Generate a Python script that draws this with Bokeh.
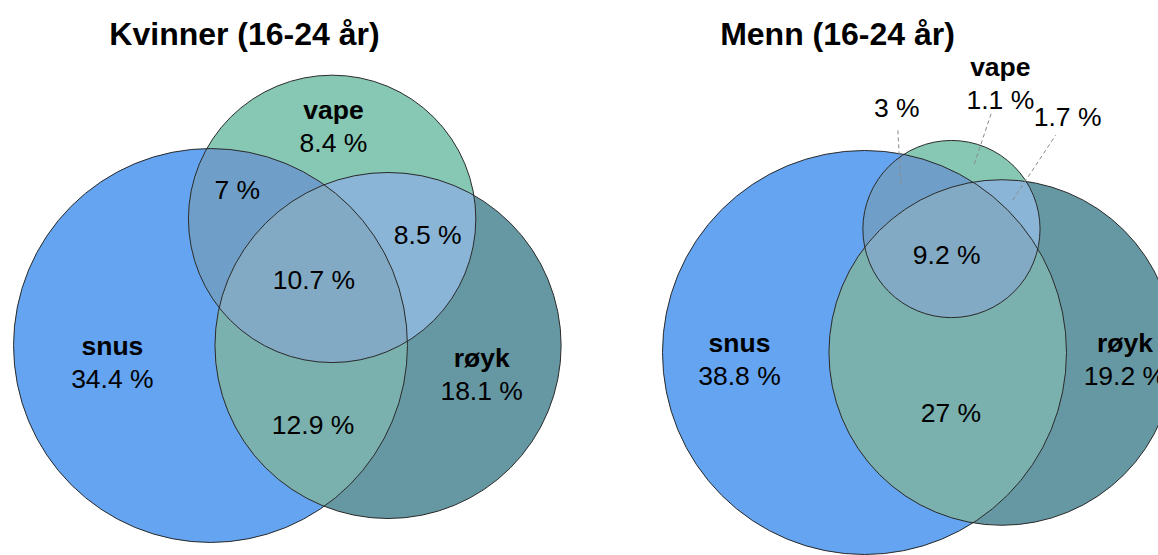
import numpy as np
from bokeh.plotting import figure
from bokeh.layouts import row
from bokeh.embed import file_html
from bokeh.resources import INLINE
from bokeh.core.properties import value

# ---------------- data ----------------
set_names = ["snus", "vape", "røyk"]
# region membership keys (snus, vape, røyk)
region_keys = ["100", "010", "001", "110", "011", "101", "111"]
kvinner_values = [34.4, 8.4, 18.1, 7.0, 8.5, 12.9, 10.7]
menn_values = [38.8, 1.1, 19.2, 3.0, 1.7, 27.0, 9.2]
panel_titles = ["Kvinner (16-24 år)", "Menn (16-24 år)"]

# ---------------- style ----------------
region_colors = {
    "100": "#64A4F0",
    "010": "#86C8B4",
    "001": "#6698A4",
    "110": "#6F9FC9",
    "011": "#8AB5D6",
    "101": "#7AB0AE",
    "111": "#82AAC4",
}
FONT = value("Liberation Sans")
LABEL_SIZE = "26.5px"
TITLE_SIZE = "32px"
H = 555
TOP = 0

# layout: scale (px per unit), page position of the snus centre, label nudges (px)
panels = [
    dict(values=kvinner_values, title=panel_titles[0], left=0, width=587,
         scale=43.3, anchor=(210, 345), title_pos=(244, 33),
         nudges={"010": (-11, -5), "110": (1, -18), "011": (11, -1), "111": (-3, -5),
                 "100": (-27, -4), "001": (13, -10), "101": (5, 15)},
         callouts={}),
    dict(values=menn_values, title=panel_titles[1], left=587, width=571,
         scale=40.54, anchor=(864, 352), title_pos=(837, 33),
         nudges={"111": (-6, 2), "100": (-44, -3), "001": (29, -1), "101": (2, 24)},
         callouts={"110": dict(label=(-8, -82), start=(-4, -7), end=(-7, -62)),
                   "010": dict(label=(32, -77.5), start=(6, 3.5), end=(23, -47.5)),
                   "011": dict(label=(51, -86), start=(-4, -3), end=(39, -68))}),
]


def fmt(v):
    return f"{v:g} %"


def lens_area(r1, r2, d):
    if d >= r1 + r2:
        return 0.0
    if d <= abs(r1 - r2):
        return np.pi * min(r1, r2) ** 2
    a1 = r1 ** 2 * np.arccos((d * d + r1 * r1 - r2 * r2) / (2 * d * r1))
    a2 = r2 ** 2 * np.arccos((d * d + r2 * r2 - r1 * r1) / (2 * d * r2))
    a3 = 0.5 * np.sqrt((-d + r1 + r2) * (d + r1 - r2) * (d - r1 + r2) * (d + r1 + r2))
    return a1 + a2 - a3


def solve_d(r1, r2, area):
    lo, hi = abs(r1 - r2), r1 + r2
    for _ in range(200):
        mid = (lo + hi) / 2
        if lens_area(r1, r2, mid) > area:
            lo = mid
        else:
            hi = mid
    return (lo + hi) / 2


def venn_layout(vals):
    v = dict(zip(region_keys, vals))
    tot = [sum(v[k] for k in region_keys if k[i] == "1") for i in range(3)]
    rad = [np.sqrt(t / np.pi) for t in tot]
    sv = v["110"] + v["111"]
    vr = v["011"] + v["111"]
    sr = v["101"] + v["111"]
    dSR = solve_d(rad[0], rad[2], sr)
    dSV = solve_d(rad[0], rad[1], sv)
    dVR = solve_d(rad[1], rad[2], vr)
    vx = (dSV ** 2 - dVR ** 2 + dSR ** 2) / (2 * dSR)
    vy = np.sqrt(max(dSV ** 2 - vx ** 2, 0.0))
    centers = [(0.0, 0.0), (vx, vy), (dSR, 0.0)]
    return centers, rad


def intersect_poly(circles, n=2000):
    pts = []
    t = np.linspace(0, 2 * np.pi, n, endpoint=False)
    for i, (cx, cy, r) in enumerate(circles):
        px = cx + r * np.cos(t)
        py = cy + r * np.sin(t)
        ok = np.ones(n, bool)
        for j, (ox, oy, orr) in enumerate(circles):
            if j != i:
                ok &= (px - ox) ** 2 + (py - oy) ** 2 <= orr ** 2 + 1e-12
        pts.append(np.c_[px[ok], py[ok]])
    P = np.vstack(pts)
    c = P.mean(axis=0)
    ang = np.arctan2(P[:, 1] - c[1], P[:, 0] - c[0])
    P = P[np.argsort(ang)]
    return list(P[:, 0]), list(P[:, 1])


def region_centroids(centers, rad):
    xmin = min(c[0] - r for c, r in zip(centers, rad))
    xmax = max(c[0] + r for c, r in zip(centers, rad))
    ymin = min(c[1] - r for c, r in zip(centers, rad))
    ymax = max(c[1] + r for c, r in zip(centers, rad))
    X, Y = np.meshgrid(np.linspace(xmin, xmax, 700), np.linspace(ymin, ymax, 700))
    inside = [((X - c[0]) ** 2 + (Y - c[1]) ** 2) <= r ** 2 for c, r in zip(centers, rad)]
    out = {}
    for key in region_keys:
        m = np.ones_like(X, bool)
        for i in range(3):
            m &= inside[i] if key[i] == "1" else ~inside[i]
        out[key] = (X[m].mean(), Y[m].mean())
    return out


def make_panel(cfg):
    k = cfg["scale"]
    ax, ay = cfg["anchor"]
    W = cfg["width"]
    left = cfg["left"]
    x0 = (left - ax) / k
    x1 = (left + W - ax) / k
    y1 = (ay - TOP) / k
    y0 = (ay - TOP - H) / k
    p = figure(width=W, height=H, x_range=(x0, x1), y_range=(y0, y1),
               output_backend="svg", toolbar_location=None, min_border=0)
    p.axis.visible = False
    p.grid.visible = False
    p.outline_line_color = None
    p.background_fill_color = "white"
    p.border_fill_color = "white"

    centers, rad = venn_layout(cfg["values"])
    circles = [(c[0], c[1], r) for c, r in zip(centers, rad)]

    # single-set fills
    for i, key in enumerate(["100", "010", "001"]):
        cx, cy, r = circles[i]
        p.circle(x=[cx], y=[cy], radius=r, fill_color=region_colors[key],
                 line_color=None)
    # pairwise overlaps
    for key, idx in [("110", (0, 1)), ("011", (1, 2)), ("101", (0, 2))]:
        xs, ys = intersect_poly([circles[i] for i in idx])
        p.patch(xs, ys, fill_color=region_colors[key], line_color=None)
    # triple overlap
    xs, ys = intersect_poly(circles)
    p.patch(xs, ys, fill_color=region_colors["111"], line_color=None)
    # outlines
    p.circle(x=[c[0] for c in circles], y=[c[1] for c in circles],
             radius=[c[2] for c in circles], fill_color=None,
             line_color="#2a2a2a", line_width=1)

    cents = region_centroids(centers, rad)
    vals = dict(zip(region_keys, cfg["values"]))
    single_name = {"100": set_names[0], "010": set_names[1], "001": set_names[2]}

    for key in region_keys:
        cx, cy = cents[key]
        if key in cfg["callouts"]:
            co = cfg["callouts"][key]
            lx = cx + co["label"][0] / k
            ly = cy - co["label"][1] / k
            p.segment(x0=[cx + co["start"][0] / k], y0=[cy - co["start"][1] / k],
                      x1=[cx + co["end"][0] / k], y1=[cy - co["end"][1] / k],
                      line_color="#8a8a8a", line_width=1, line_dash="4 3")
        else:
            dx, dy = cfg["nudges"].get(key, (0, 0))
            lx = cx + dx / k
            ly = cy - dy / k
        if key in single_name:
            p.text(x=[lx], y=[ly + 16.5 / k], text=[single_name[key]],
                   text_font=FONT, text_font_size=LABEL_SIZE, text_font_style="bold",
                   text_align="center", text_baseline="middle", text_color="#000000")
            p.text(x=[lx], y=[ly - 16.5 / k], text=[fmt(vals[key])],
                   text_font=FONT, text_font_size=LABEL_SIZE,
                   text_align="center", text_baseline="middle", text_color="#000000")
        else:
            p.text(x=[lx], y=[ly], text=[fmt(vals[key])],
                   text_font=FONT, text_font_size=LABEL_SIZE,
                   text_align="center", text_baseline="middle", text_color="#000000")

    tx, ty = cfg["title_pos"]
    p.text(x=[(tx - ax) / k], y=[(ay - ty) / k], text=[cfg["title"]],
           text_font=FONT, text_font_size=TITLE_SIZE, text_font_style="bold",
           text_align="center", text_baseline="middle", text_color="#000000")
    return p


figs = [make_panel(c) for c in panels]
layout = row(*figs, spacing=0)
open("out.html", "w").write(file_html(layout, INLINE))
